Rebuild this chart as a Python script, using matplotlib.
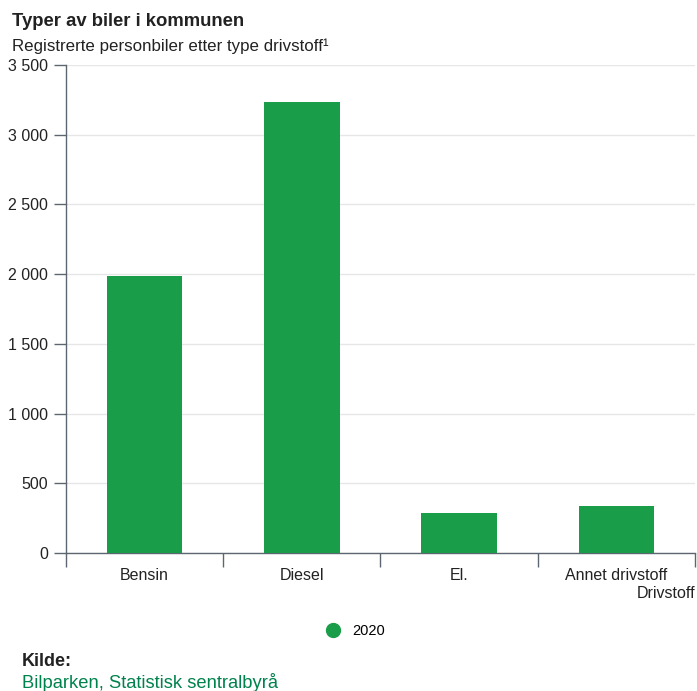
import matplotlib
matplotlib.use("Agg")
import matplotlib.pyplot as plt
from matplotlib.lines import Line2D

plt.rcParams['font.family'] = ['Liberation Sans', 'DejaVu Sans']

categories = ["Bensin", "Diesel", "El.", "Annet drivstoff"]
values_2020 = [1990, 3235, 287, 337]
yticks = [0, 500, 1000, 1500, 2000, 2500, 3000, 3500]
ytick_labels = ["0", "500", "1 000", "1 500", "2 000", "2 500", "3 000", "3 500"]

green = "#1a9d49"
axis_col = "#5c6670"
text_col = "#222222"

fig = plt.figure(figsize=(6.97, 6.91), dpi=100)
ax = fig.add_axes([0.0947, 0.1997, 0.9023, 0.7063])

x = list(range(len(categories)))
ax.bar(x, values_2020, width=0.48, color=green, zorder=3)

ax.set_xlim(-0.5, len(categories) - 0.5)
ax.set_ylim(0, 3500)
ax.set_yticks(yticks)
ax.set_yticklabels(ytick_labels, fontsize=11.5, color=text_col)
ax.yaxis.grid(True, color="#e6e6e6", linewidth=1, zorder=0)

ax.set_xticks(x)
ax.set_xticklabels(categories, fontsize=11.5, color=text_col)
ax.tick_params(axis="x", length=0, pad=11)
# category boundary ticks
ax.set_xticks([i - 0.5 for i in range(len(categories) + 1)], minor=True)
ax.tick_params(axis="x", which="minor", length=10, width=1, color=axis_col)
ax.tick_params(axis="y", length=9, width=1, color=axis_col, pad=4)

for s in ["top", "right"]:
    ax.spines[s].set_visible(False)
for s in ["left", "bottom"]:
    ax.spines[s].set_color(axis_col)
    ax.spines[s].set_linewidth(1)

fig.text(12 / 697, 1 - 21 / 691, "Typer av biler i kommunen", fontsize=13.3,
         fontweight="bold", color=text_col, va="center")
fig.text(12 / 697, 1 - 46 / 691, "Registrerte personbiler etter type drivstoff\u00b9",
         fontsize=12.2, color=text_col, va="center")
fig.text(695 / 697, 1 - 594 / 691, "Drivstoff", fontsize=11.5, color=text_col,
         ha="right", va="center")

handle = Line2D([], [], marker="o", linestyle="none", markersize=10,
                markerfacecolor=green, markeredgecolor=green)
fig.legend([handle], ["2020"], loc="center", bbox_to_anchor=(352 / 697, 1 - 631 / 691),
           frameon=False, fontsize=10.5, handletextpad=0.3)

fig.text(22 / 697, 1 - 662 / 691, "Kilde:", fontsize=13, fontweight="bold",
         color=text_col, va="center")
fig.text(22 / 697, 1 - 683 / 691, "Bilparken, Statistisk sentralbyr\u00e5", fontsize=13.2,
         color="#00824d", va="center")

fig.savefig("out.png", dpi=100)
